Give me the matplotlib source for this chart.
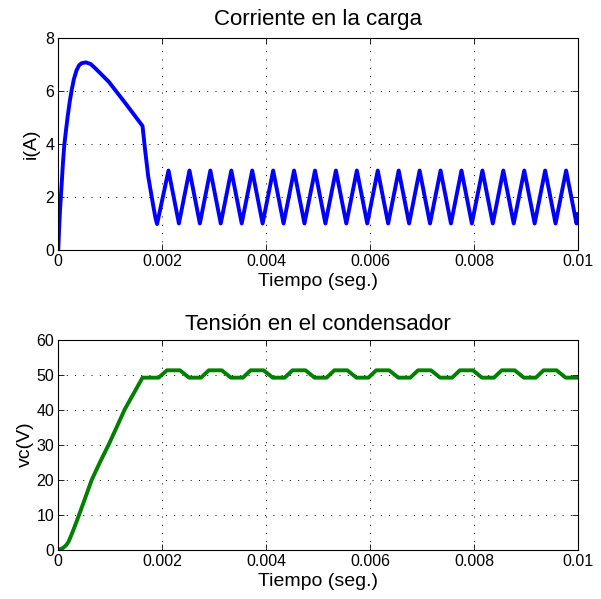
import matplotlib
matplotlib.use("Agg")
import matplotlib.pyplot as plt
import numpy as np

plt.rcParams['font.family'] = ['Liberation Sans', 'DejaVu Sans']

# --- corriente en la carga: arranque ---
t_arranque = [0, 0.000015, 0.000033, 0.000065, 0.00009, 0.000115, 0.00015, 0.00018,
              0.00022, 0.000258, 0.0003, 0.000353, 0.0004, 0.00045,
              0.00053, 0.00062, 0.00071, 0.00097, 0.00129, 0.00162,
              0.00167, 0.00173, 0.00183, 0.00187, 0.0019]
i_arranque = [0, 0.75, 1.5, 2.5, 3.3, 3.96, 4.55, 5.03,
              5.6, 6.04, 6.45, 6.79, 6.97, 7.05,
              7.08, 7.02, 6.86, 6.35, 5.54, 4.68,
              3.77, 2.77, 1.63, 1.2, 0.98]

# --- corriente: rizado (picos y valles) ---
t_picos = [0.00212, 0.002523, 0.002925, 0.003328, 0.00373, 0.004133, 0.004535,
           0.004938, 0.00534, 0.005743, 0.006145, 0.006548, 0.00695, 0.007353,
           0.007755, 0.008158, 0.00856, 0.008963, 0.009365, 0.009768]
t_valles = [0.00232, 0.002723, 0.003125, 0.003528, 0.00393, 0.004333, 0.004735,
            0.005138, 0.00554, 0.005943, 0.006345, 0.006748, 0.00715, 0.007553,
            0.007955, 0.008358, 0.00876, 0.009163, 0.009565, 0.009968]
i_pico = 3.0
i_valle = 1.0
t_fin = 0.01
i_fin = 1.35

# --- tension en el condensador ---
t_carga = [0, 0.00004, 0.00008, 0.00012, 0.00016, 0.0002, 0.00028, 0.000385, 0.0005,
           0.00064, 0.0008, 0.00097, 0.0011, 0.00128, 0.00145, 0.00162, 0.00193]
v_carga = [0, 0.1, 0.35, 0.8, 1.4, 2.3, 5.2, 9.3, 14.0,
           19.8, 24.9, 30.0, 34.2, 40.1, 44.6, 49.1, 49.1]
t_alto_ini = [0.00209, 0.002895, 0.0037, 0.004505, 0.00531, 0.006115, 0.00692,
              0.007725, 0.00853, 0.009335]
t_alto_fin = [0.00234, 0.003145, 0.00395, 0.004755, 0.00556, 0.006365, 0.00717,
              0.007975, 0.00878, 0.009585]
t_bajo_ini = [0.002515, 0.00332, 0.004125, 0.00493, 0.005735, 0.00654, 0.007345,
              0.00815, 0.008955, 0.00976]
t_bajo_fin = [0.002745, 0.00355, 0.004355, 0.00516, 0.005965, 0.00677, 0.007575,
              0.00838, 0.009185, 0.01]
v_alto = 51.2
v_bajo = 49.1

xticks = [0, 0.002, 0.004, 0.006, 0.008, 0.01]
xlabels = ["0", "0.002", "0.004", "0.006", "0.008", "0.01"]

# armar las curvas
t_i = list(t_arranque)
i_i = list(i_arranque)
for tp, tv in zip(t_picos, t_valles):
    t_i += [tp, tv]
    i_i += [i_pico, i_valle]
t_i.append(t_fin)
i_i.append(i_fin)

t_v = list(t_carga)
v_v = list(v_carga)
for a, b, c, d in zip(t_alto_ini, t_alto_fin, t_bajo_ini, t_bajo_fin):
    t_v += [a, b, c, d]
    v_v += [v_alto, v_alto, v_bajo, v_bajo]

fig = plt.figure(figsize=(6.01, 5.99), dpi=100)
ax1 = fig.add_axes([0.097, 0.5826, 0.865, 0.354])
ax2 = fig.add_axes([0.097, 0.0826, 0.865, 0.3506])

ax1.plot(t_i, i_i, color=(0, 0, 1), lw=2.8, solid_joinstyle='round')
ax2.plot(t_v, v_v, color=(0, 0.5, 0), lw=2.8, solid_joinstyle='round')

for ax, yt in [(ax1, [0, 2, 4, 6, 8]), (ax2, [0, 10, 20, 30, 40, 50, 60])]:
    ax.set_xlim(0, 0.01)
    ax.set_ylim(yt[0], yt[-1])
    ax.set_xticks(xticks)
    ax.set_xticklabels(xlabels)
    ax.set_yticks(yt)
    ax.tick_params(direction='in', top=True, right=True, labelsize=11.5,
                   length=4, width=0.6, pad=3)
    ax.grid(True, linestyle=(0, (1, 7.5)), color='k', linewidth=0.7)
    for s in ax.spines.values():
        s.set_linewidth(0.8)
    ax.set_xlabel("Tiempo (seg.)", fontsize=14, labelpad=3)

ax1.set_ylabel("i(A)", fontsize=14, labelpad=4)
ax2.set_ylabel("vc(V)", fontsize=14, labelpad=2)
ax1.set_title("Corriente en la carga", fontsize=16, pad=9)
ax2.set_title("Tensión en el condensador", fontsize=16, pad=7)

plt.savefig("out.png", dpi=100)
